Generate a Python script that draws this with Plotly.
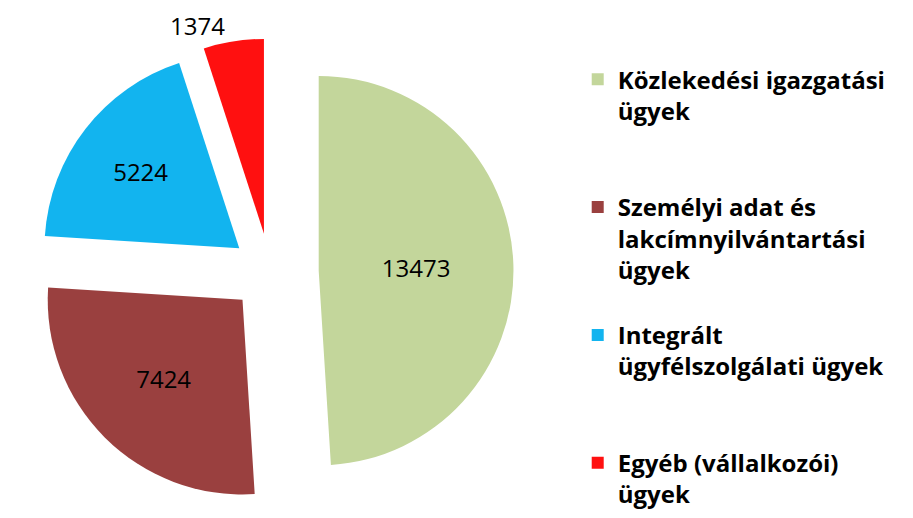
import plotly.graph_objects as go

categories = [
    "Közlekedési igazgatási<br>ügyek<br> <br> ",
    "Személyi adat és<br>lakcímnyilvántartási<br>ügyek<br> ",
    "Integrált<br>ügyfélszolgálati ügyek<br> <br> ",
    "Egyéb (vállalkozói)<br>ügyek",
]
values = [13473, 7424, 5224, 1374]
colors = ["#C3D69B", "#9A403F", "#12B4EF", "#FF1010"]
pulls = [0.25, 0.2, 0.2, 0.2]
text_positions = ["inside", "inside", "inside", "outside"]

fig = go.Figure(
    go.Pie(
        labels=categories,
        values=values,
        sort=False,
        direction="clockwise",
        rotation=0,
        pull=pulls,
        marker=dict(colors=colors, line=dict(width=0)),
        texttemplate="%{value:.0f}",
        textposition=text_positions,
        insidetextorientation="horizontal",
        textfont=dict(family="Open Sans", size=24, color="#000000"),
        domain=dict(x=[0.0, 0.574], y=[0.02, 0.96]),
        showlegend=True,
    )
)

fig.update_layout(
    width=913,
    height=518,
    margin=dict(l=0, r=0, t=0, b=0, autoexpand=False),
    paper_bgcolor="white",
    plot_bgcolor="white",
    legend=dict(
        x=0.624,
        y=0.905,
        xanchor="left",
        yanchor="top",
        valign="top",
        font=dict(family="Open Sans", size=24, color="#000000", weight="bold"),
        itemwidth=30,
        tracegroupgap=0,
    ),
)

fig.write_html("out.html")
